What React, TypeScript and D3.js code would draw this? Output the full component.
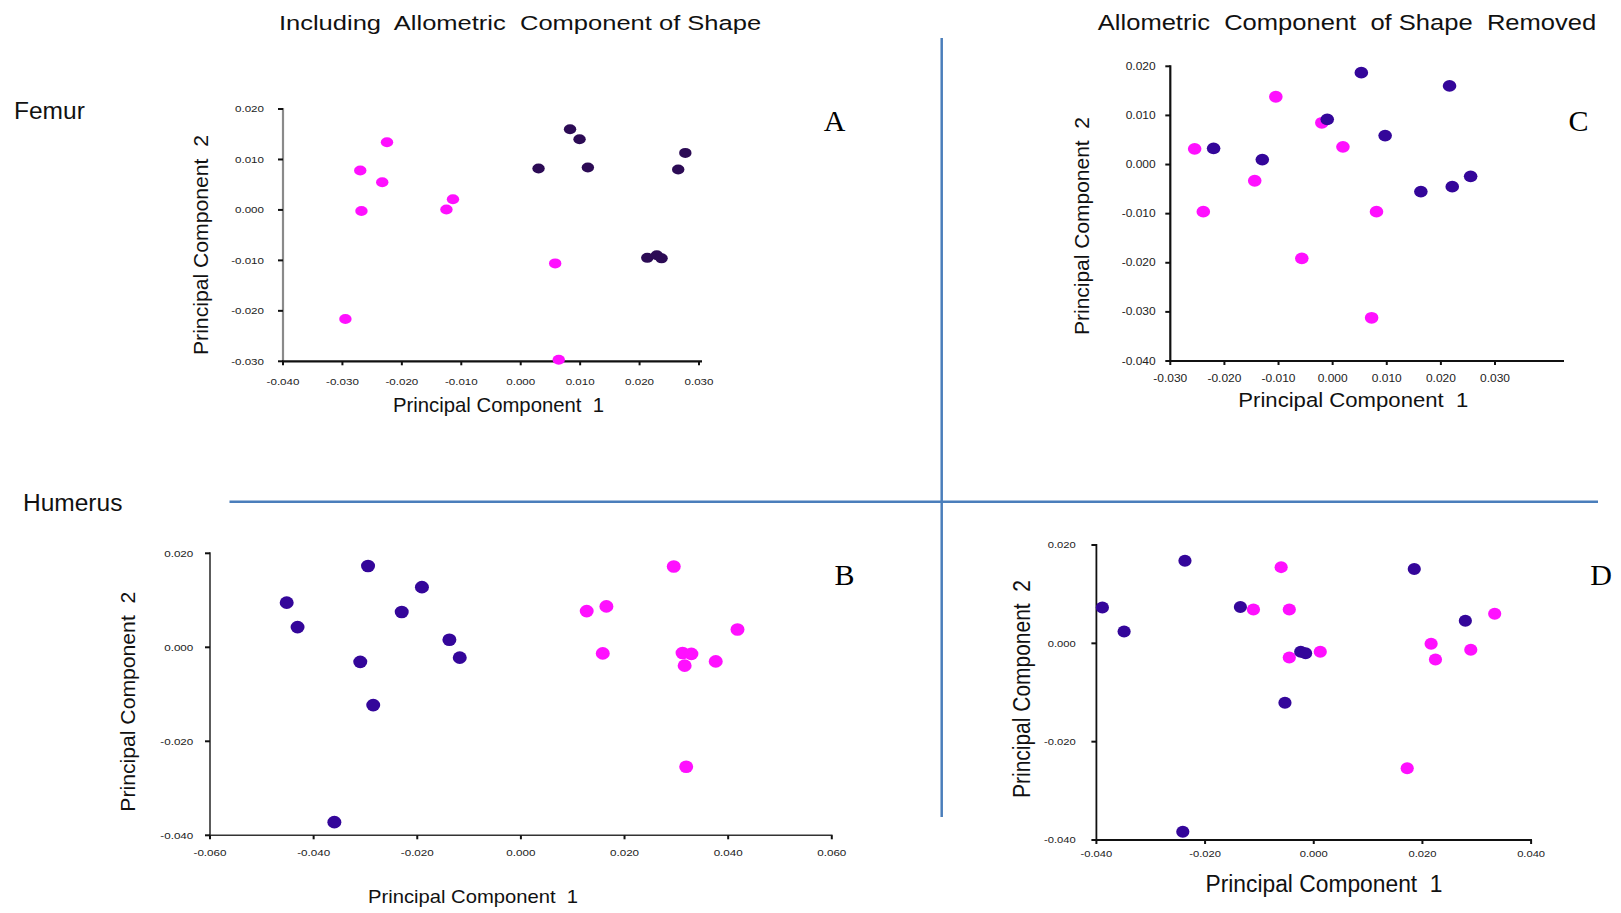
import React from "react";
import * as d3 from "d3";

// ---------- DATA ----------
// Femur, including allometric component (panel A)
const femurInclMagenta: [number, number][] = [
  [-0.0225, 0.0134], [-0.027, 0.0078], [-0.0233, 0.0055], [-0.0268, -0.0002],
  [-0.0114, 0.0021], [-0.0125, 0.0001], [0.0058, -0.0106], [-0.0295, -0.0216],
  [0.0064, -0.0297],
];
const femurInclPurple: [number, number][] = [
  [0.0083, 0.016], [0.0099, 0.014], [0.003, 0.0082], [0.0113, 0.0084],
  [0.0277, 0.0113], [0.0265, 0.008], [0.0213, -0.0095], [0.0229, -0.009],
  [0.0237, -0.0096],
];
// Femur, allometric component removed (panel C)
const femurRemMagenta: [number, number][] = [
  [-0.0105, 0.0138], [-0.002, 0.0085], [0.0019, 0.0036], [-0.0255, 0.0032],
  [-0.0144, -0.0033], [-0.0239, -0.0096], [0.0081, -0.0096], [-0.0057, -0.0191],
  [0.0072, -0.0312],
];
const femurRemPurple: [number, number][] = [
  [0.0053, 0.0187], [0.0216, 0.016], [-0.001, 0.0092], [0.0097, 0.0059],
  [-0.022, 0.0033], [-0.013, 0.001], [0.0255, -0.0024], [0.0221, -0.0045],
  [0.0163, -0.0055],
];
// Humerus, including allometric component (panel B)
const humerusInclPurple: [number, number][] = [
  [-0.0295, 0.0173], [-0.0191, 0.0128], [-0.0452, 0.0095], [-0.023, 0.0075],
  [-0.0431, 0.0043], [-0.0138, 0.0016], [-0.0118, -0.0022], [-0.031, -0.0031],
  [-0.0285, -0.0123], [-0.036, -0.0372],
];
const humerusInclMagenta: [number, number][] = [
  [0.0295, 0.0172], [0.0127, 0.0077], [0.0165, 0.0087], [0.0418, 0.0038],
  [0.0158, -0.0013], [0.0312, -0.0012], [0.0329, -0.0014], [0.0316, -0.0039],
  [0.0376, -0.003], [0.0319, -0.0254],
];
// Humerus, allometric component removed (panel D)
const humerusRemPurple: [number, number][] = [
  [-0.0237, 0.0168], [-0.0389, 0.0073], [-0.0349, 0.0024], [-0.0135, 0.0074],
  [0.0185, 0.0151], [0.0279, 0.0046], [-0.0024, -0.0017], [-0.0015, -0.002],
  [-0.0053, -0.0121], [-0.0241, -0.0383],
];
const humerusRemMagenta: [number, number][] = [
  [-0.006, 0.0155], [-0.0111, 0.0069], [-0.0045, 0.0069], [0.0012, -0.0017],
  [-0.0045, -0.0029], [0.0333, 0.006], [0.0216, -0.0001], [0.0289, -0.0013],
  [0.0224, -0.0033], [0.0172, -0.0254],
];

// tick values
const ticksA_x = [-0.04, -0.03, -0.02, -0.01, 0, 0.01, 0.02, 0.03];
const ticksA_y = [-0.03, -0.02, -0.01, 0, 0.01, 0.02];
const ticksC_x = [-0.03, -0.02, -0.01, 0, 0.01, 0.02, 0.03];
const ticksC_y = [-0.04, -0.03, -0.02, -0.01, 0, 0.01, 0.02];
const ticksB_x = [-0.06, -0.04, -0.02, 0, 0.02, 0.04, 0.06];
const ticksB_y = [-0.04, -0.02, 0, 0.02];
const ticksD_x = [-0.04, -0.02, 0, 0.02, 0.04];
const ticksD_y = [-0.04, -0.02, 0, 0.02];

const titleLeft = "Including  Allometric  Component of Shape";
const titleRight = "Allometric  Component  of Shape  Removed";
const xTitle = "Principal Component  1";
const yTitle = "Principal Component  2";

const MAGENTA = "#ff10ff";
const PURPLE = "#34069a";
const PURPLE_DARK = "#2c0b55";
const SANS = "'Liberation Sans', Arial, sans-serif";
const SERIF = "'Liberation Serif', 'Times New Roman', serif";

const fmt = (v: number) => (Math.abs(v) < 1e-9 ? "0.000" : v.toFixed(3));

type PanelProps = {
  xDomain: [number, number];
  xRange: [number, number];
  yDomain: [number, number];
  yRange: [number, number];
  xAxisEnd: number;
  xTicks: number[];
  yTicks: number[];
  magenta: [number, number][];
  purple: [number, number][];
  purpleColor: string;
  rx: number;
  ry: number;
  tickFont: number;
  tickStretch: number;
  xLabelBaseline: number;
  yLabelRight: number;
  yAxisColor: string;
  xAxisColor: string;
  axisWidth: number;
  xt: { cx: number; base: number; len: number; size: number };
  yt: { bx: number; cy: number; len: number; size: number };
  letter: { ch: string; x: number; y: number };
};

function Panel(p: PanelProps) {
  const x = d3.scaleLinear().domain(p.xDomain).range(p.xRange);
  const y = d3.scaleLinear().domain(p.yDomain).range(p.yRange);
  const x0 = p.xRange[0];
  const yb = p.yRange[0];
  const yt = p.yRange[1];
  return (
    <g>
      <line x1={x0} x2={x0} y1={yt - 1} y2={yb} stroke={p.yAxisColor} strokeWidth={p.axisWidth} />
      <line x1={x0 - 1} x2={p.xAxisEnd} y1={yb} y2={yb} stroke={p.xAxisColor} strokeWidth={p.axisWidth} />
      {p.yTicks.map((t) => (
        <g key={"y" + t}>
          <line x1={x0 - 5} x2={x0} y1={y(t)} y2={y(t)} stroke="#111" strokeWidth={2} />
          <text
            transform={`translate(${p.yLabelRight},${y(t) + p.tickFont * 0.36}) scale(${p.tickStretch},1)`}
            textAnchor="end"
            fontFamily={SANS}
            fontSize={p.tickFont}
            fill="#222"
          >
            {fmt(t)}
          </text>
        </g>
      ))}
      {p.xTicks.map((t) => (
        <g key={"x" + t}>
          <line x1={x(t)} x2={x(t)} y1={yb} y2={yb + 4} stroke="#111" strokeWidth={2} />
          <text
            transform={`translate(${x(t)},${p.xLabelBaseline}) scale(${p.tickStretch},1)`}
            textAnchor="middle"
            fontFamily={SANS}
            fontSize={p.tickFont}
            fill="#222"
          >
            {fmt(t)}
          </text>
        </g>
      ))}
      {p.magenta.map((d, i) => (
        <ellipse key={"m" + i} cx={x(d[0])} cy={y(d[1])} rx={p.rx} ry={p.ry} fill={MAGENTA} />
      ))}
      {p.purple.map((d, i) => (
        <ellipse key={"p" + i} cx={x(d[0])} cy={y(d[1])} rx={p.rx} ry={p.ry} fill={p.purpleColor} />
      ))}
      <text
        x={p.xt.cx}
        y={p.xt.base}
        textAnchor="middle"
        fontFamily={SANS}
        fontSize={p.xt.size}
        textLength={p.xt.len}
        lengthAdjust="spacingAndGlyphs"
        style={{ whiteSpace: "pre" }}
        fill="#111"
      >
        {xTitle}
      </text>
      <text
        transform={`translate(${p.yt.bx},${p.yt.cy}) rotate(-90)`}
        textAnchor="middle"
        fontFamily={SANS}
        fontSize={p.yt.size}
        textLength={p.yt.len}
        lengthAdjust="spacingAndGlyphs"
        style={{ whiteSpace: "pre" }}
        fill="#111"
      >
        {yTitle}
      </text>
      <text x={p.letter.x} y={p.letter.y} textAnchor="middle" fontFamily={SERIF} fontSize={30} fill="#000">
        {p.letter.ch}
      </text>
    </g>
  );
}

export default function App() {
  return (
    <svg
      width={1621}
      height={913}
      style={{ position: "absolute", left: 0, top: 0, background: "#fff" }}
    >
      <rect x={0} y={0} width={1621} height={913} fill="#fff" />
      <text
        transform="translate(520,30) scale(1.21,1)"
        textAnchor="middle"
        fontFamily={SANS}
        fontSize={21.1}
        style={{ whiteSpace: "pre" }}
        fill="#111"
      >
        {titleLeft}
      </text>
      <text
        transform="translate(1347,30) scale(1.2,1)"
        textAnchor="middle"
        fontFamily={SANS}
        fontSize={21.3}
        style={{ whiteSpace: "pre" }}
        fill="#111"
      >
        {titleRight}
      </text>
      <text x={14} y={118.7} fontFamily={SANS} fontSize={24.5} fill="#111">
        Femur
      </text>
      <text x={23} y={510.7} fontFamily={SANS} fontSize={24.5} fill="#111">
        Humerus
      </text>

      <line x1={941.7} x2={941.7} y1={38} y2={817} stroke="#4a7ebb" strokeWidth={2.5} />
      <line x1={229.5} x2={1598} y1={501.7} y2={501.7} stroke="#4a7ebb" strokeWidth={2.5} />

      {/* Panel A */}
      <Panel
        xDomain={[-0.04, 0.03]}
        xRange={[283, 699]}
        yDomain={[-0.03, 0.02]}
        yRange={[361.3, 109]}
        xAxisEnd={702}
        xTicks={ticksA_x}
        yTicks={ticksA_y}
        magenta={femurInclMagenta}
        purple={femurInclPurple}
        purpleColor={PURPLE_DARK}
        rx={6.2}
        ry={5}
        tickFont={9.5}
        tickStretch={1.22}
        xLabelBaseline={384.7}
        yLabelRight={264}
        yAxisColor="#8a8a8a"
        xAxisColor="#111"
        axisWidth={2.2}
        xt={{ cx: 498.5, base: 412, len: 211, size: 21 }}
        yt={{ bx: 208, cy: 245, len: 220, size: 21 }}
        letter={{ ch: "A", x: 834.5, y: 130.7 }}
      />
      {/* Panel C */}
      <Panel
        xDomain={[-0.03, 0.03]}
        xRange={[1170.3, 1495]}
        yDomain={[-0.04, 0.02]}
        yRange={[361, 66.3]}
        xAxisEnd={1564}
        xTicks={ticksC_x}
        yTicks={ticksC_y}
        magenta={femurRemMagenta}
        purple={femurRemPurple}
        purpleColor={PURPLE}
        rx={6.8}
        ry={5.9}
        tickFont={10}
        tickStretch={1.2}
        xLabelBaseline={382}
        yLabelRight={1155.7}
        yAxisColor="#111"
        xAxisColor="#111"
        axisWidth={2.2}
        xt={{ cx: 1353.3, base: 407, len: 230, size: 20.5 }}
        yt={{ bx: 1089, cy: 226, len: 218, size: 21 }}
        letter={{ ch: "C", x: 1578.6, y: 131 }}
      />
      {/* Panel B */}
      <Panel
        xDomain={[-0.06, 0.06]}
        xRange={[210, 831.8]}
        yDomain={[-0.04, 0.02]}
        yRange={[835.3, 553.3]}
        xAxisEnd={832.5}
        xTicks={ticksB_x}
        yTicks={ticksB_y}
        magenta={humerusInclMagenta}
        purple={humerusInclPurple}
        purpleColor={PURPLE}
        rx={7}
        ry={6.3}
        tickFont={9.3}
        tickStretch={1.25}
        xLabelBaseline={856}
        yLabelRight={193.3}
        yAxisColor="#333"
        xAxisColor="#333"
        axisWidth={1.6}
        xt={{ cx: 473, base: 903, len: 210, size: 19 }}
        yt={{ bx: 135, cy: 701.7, len: 220, size: 21 }}
        letter={{ ch: "B", x: 844.6, y: 585 }}
      />
      {/* Panel D */}
      <Panel
        xDomain={[-0.04, 0.04]}
        xRange={[1096.4, 1531.1]}
        yDomain={[-0.04, 0.02]}
        yRange={[840, 545]}
        xAxisEnd={1532}
        xTicks={ticksD_x}
        yTicks={ticksD_y}
        magenta={humerusRemMagenta}
        purple={humerusRemPurple}
        purpleColor={PURPLE}
        rx={6.6}
        ry={6}
        tickFont={9.3}
        tickStretch={1.2}
        xLabelBaseline={856.5}
        yLabelRight={1075.7}
        yAxisColor="#111"
        xAxisColor="#111"
        axisWidth={1.8}
        xt={{ cx: 1324, base: 891.5, len: 237, size: 23 }}
        yt={{ bx: 1030, cy: 689, len: 218, size: 23 }}
        letter={{ ch: "D", x: 1601, y: 585 }}
      />
    </svg>
  );
}
